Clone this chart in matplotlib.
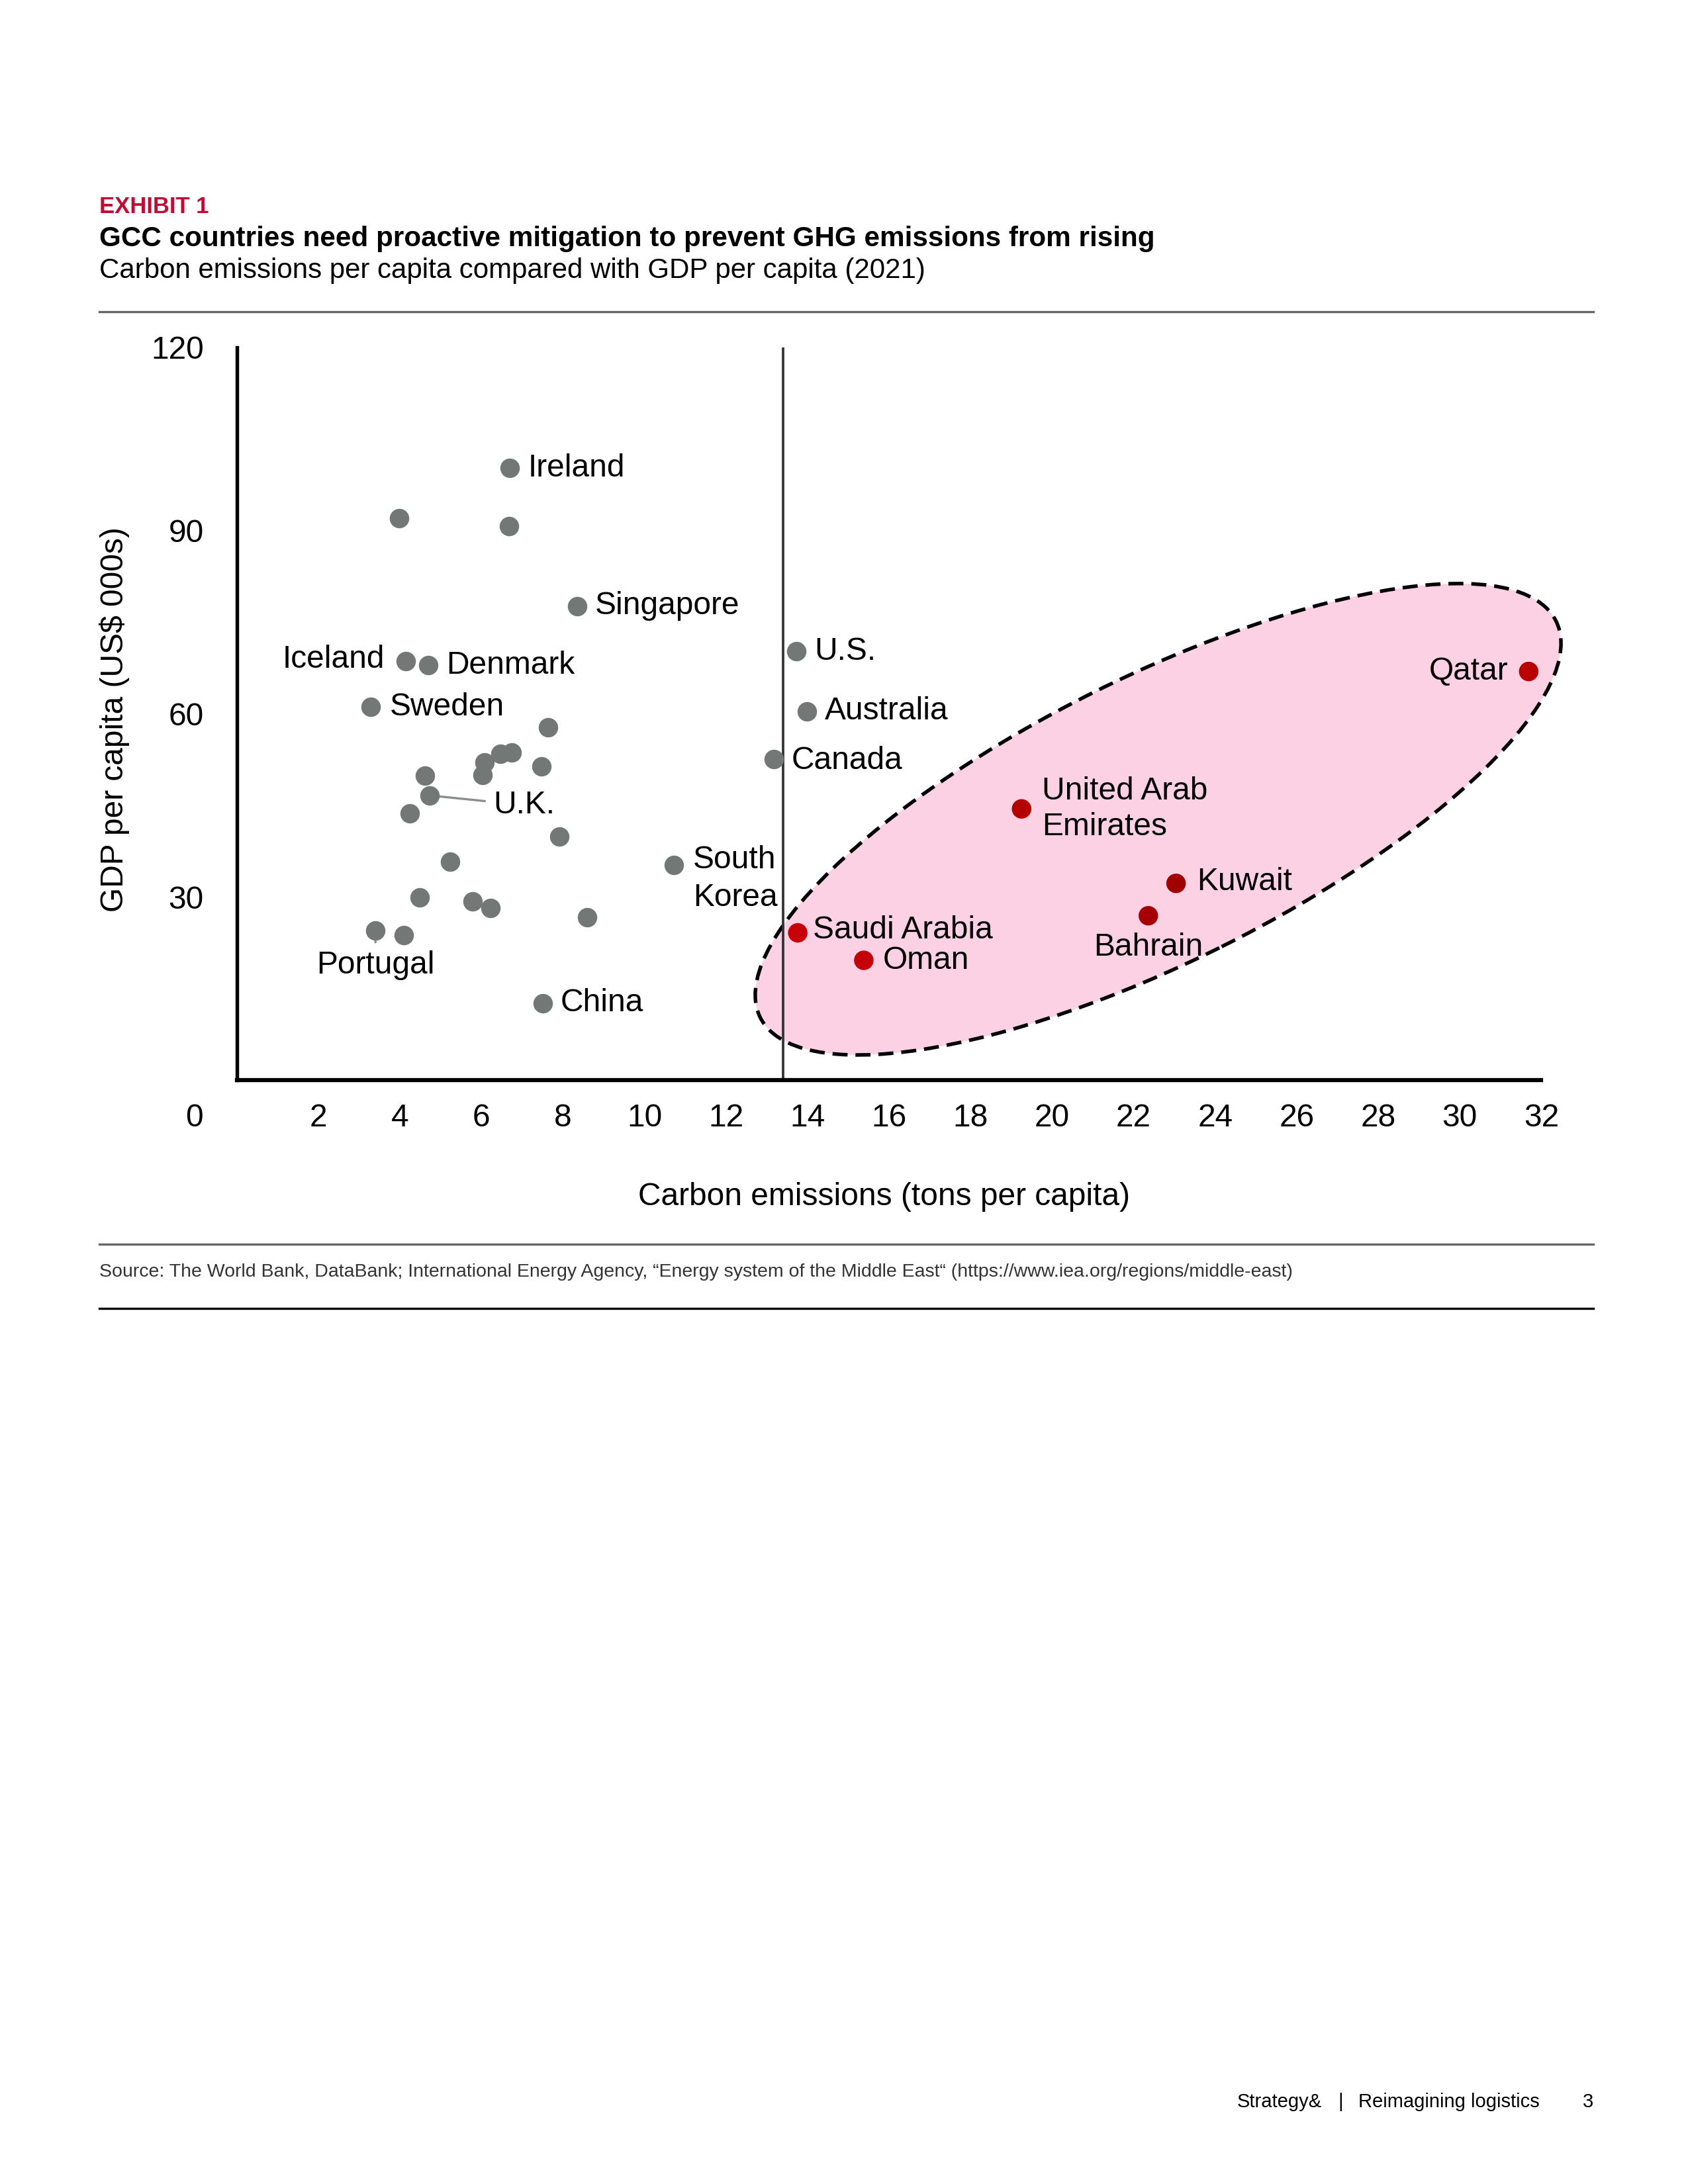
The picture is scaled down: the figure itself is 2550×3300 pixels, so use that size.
import matplotlib
matplotlib.use('Agg')
from matplotlib import pyplot as plt
from matplotlib.lines import Line2D
from matplotlib.patches import Ellipse
from matplotlib.transforms import ScaledTranslation

plt.rcParams['font.family'] = ['Liberation Sans', 'DejaVu Sans']

# labelled countries outside the GCC
countries = ['Ireland', 'Singapore', 'U.S.', 'Iceland', 'Denmark', 'Australia',
             'Sweden', 'Canada', 'U.K.', 'South\nKorea', 'Portugal', 'China']
co2 = [6.70, 8.35, 13.72, 4.14, 4.70, 13.99, 3.28, 13.17, 4.73, 10.72, 3.40, 7.50]
gdp = [100.2, 77.6, 70.2, 68.6, 67.9, 60.4, 61.1, 52.5, 46.6, 35.2, 24.5, 12.6]

# unlabelled countries
other_co2 = [3.99, 6.67, 7.63, 6.75, 6.47, 6.08, 6.03, 7.47, 4.61, 4.25, 7.92,
             5.23, 4.48, 5.78, 6.22, 8.60, 4.09]
other_gdp = [92.0, 90.7, 57.7, 53.6, 53.4, 52.0, 50.0, 51.4, 49.8, 43.7, 39.9,
             35.7, 29.9, 29.3, 28.2, 26.7, 23.7]

# GCC countries
gcc = ['Saudi Arabia', 'Oman', 'United Arab\nEmirates', 'Kuwait', 'Bahrain', 'Qatar']
gcc_co2 = [13.76, 15.38, 19.25, 23.04, 22.36, 31.69]
gcc_gdp = [24.1, 19.6, 44.4, 32.2, 26.9, 66.9]
gcc_colors = ['#c8000a', '#c4000a', '#b30000', '#a10000', '#a50006', '#b80000']

x_ticks = [2, 4, 6, 8, 10, 12, 14, 16, 18, 20, 22, 24, 26, 28, 30, 32]
y_ticks = [30, 60, 90, 120]
threshold = 13.4

# label placement: offset in points from the dot, ha, leader line
placement = {
    'Ireland': (6.5, 0, 'left', False),
    'Singapore': (6.5, 0, 'left', False),
    'U.S.': (6.5, 0, 'left', False),
    'Iceland': (-7.5, 0.5, 'right', False),
    'Denmark': (6.5, 0, 'left', False),
    'Australia': (6.5, 0, 'left', False),
    'Sweden': (7, 0, 'left', False),
    'Canada': (6.5, -0.5, 'left', False),
    'U.K.': (23, -3.5, 'left', True),
    'South\nKorea': (7, -5, 'left', False),
    'Portugal': (0, -12.7, 'center', True),
    'China': (6.5, 0, 'left', False),
    'Saudi Arabia': (5.5, 1, 'left', False),
    'Oman': (7, 0, 'left', False),
    'United Arab\nEmirates': (7.5, 0, 'left', False),
    'Kuwait': (7.5, 0.5, 'left', False),
    'Bahrain': (0, -11.5, 'center', False),
    'Qatar': (-7.5, 0, 'right', False),
}
line_gap = {'South\nKorea': 1.34, 'United Arab\nEmirates': 1.25}

FS = 11.5
GREY = '#737877'

fig = plt.figure(figsize=(8.5, 11), dpi=300)
ax = fig.add_axes([0.1403, 0.5055, 0.7728, 0.3355])
ax.set_xlim(0, 32)
ax.set_ylim(0, 120)

# GCC ellipse, sized in inches around a data-space centre
ell_trans = fig.dpi_scale_trans + ScaledTranslation(22.6, 42.7, ax.transData)
ax.add_patch(Ellipse((0, 0), 4.477, 1.434, angle=26.5, transform=ell_trans,
                     facecolor='#fdd1e4', edgecolor='black', lw=1.3,
                     linestyle=(0, (4.2, 2.2)), zorder=0.5, clip_on=False))

ax.axvline(threshold, color='#333333', lw=0.9, zorder=1)

ax.scatter(other_co2, other_gdp, s=50, color=GREY, lw=0, zorder=4)
ax.scatter(co2, gdp, s=50, color=GREY, lw=0, zorder=4)
ax.scatter(gcc_co2, gcc_gdp, s=50, color=gcc_colors, lw=0, zorder=4)

for names, xs, ys in [(countries, co2, gdp), (gcc, gcc_co2, gcc_gdp)]:
    for name, x, y in zip(names, xs, ys):
        dx, dy, ha, leader = placement[name]
        kw = {}
        if leader:
            kw['arrowprops'] = dict(arrowstyle='-', color='#8a8e8d', lw=0.8,
                                    shrinkA=1, shrinkB=0)
        ax.annotate(name, xy=(x, y), xytext=(dx, dy), textcoords='offset points',
                    ha=ha, va='center', fontsize=FS, color='black',
                    linespacing=line_gap.get(name, 1.2), zorder=3, **kw)

for side in ['top', 'right']:
    ax.spines[side].set_visible(False)
ax.spines['left'].set_linewidth(1.3)
ax.spines['bottom'].set_linewidth(1.5)
ax.set_xticks(x_ticks)
ax.set_yticks(y_ticks)
ax.tick_params(axis='both', length=0, labelsize=FS)
ax.tick_params(axis='x', pad=8.5)
ax.tick_params(axis='y', pad=12)
ax.annotate('0', xy=(0, 0), xytext=(-15.5, -8.5), textcoords='offset points',
            ha='center', va='top', fontsize=FS)

fig.text(0.5236, 0.452, 'Carbon emissions (tons per capita)', ha='center',
         va='center', fontsize=FS)
fig.text(0.0678, 0.6707, 'GDP per capita (US$ 000s)', ha='center', va='center',
         rotation=90, fontsize=FS)

# header
fig.text(0.0587, 0.9054, 'EXHIBIT 1', color='#c00d35', fontsize=8.3,
         fontweight='bold', va='center')
fig.text(0.0587, 0.8907, 'GCC countries need proactive mitigation to prevent GHG '
         'emissions from rising', fontsize=10.15, fontweight='bold', va='center')
fig.text(0.0587, 0.8760, 'Carbon emissions per capita compared with GDP per capita '
         '(2021)', fontsize=10.1, va='center')
fig.add_artist(Line2D([0.0587, 0.9438], [0.8574, 0.8574], color='#666666', lw=0.8))

# source
fig.add_artist(Line2D([0.0587, 0.9438], [0.4303, 0.4303], color='#666666', lw=0.8))
fig.text(0.0587, 0.4175, 'Source: The World Bank, DataBank; International Energy '
         'Agency, \u201cEnergy system of the Middle East\u201c '
         '(https://www.iea.org/regions/middle-east)', fontsize=6.83, color='#333333',
         va='center')
fig.add_artist(Line2D([0.0587, 0.9438], [0.4009, 0.4009], color='black', lw=0.8))

# page footer
fig.text(0.7329, 0.0377, 'Strategy&', fontsize=7, va='center')
fig.text(0.794, 0.0377, '|', fontsize=7, va='center', ha='center')
fig.text(0.8048, 0.0377, 'Reimagining logistics', fontsize=7, va='center')
fig.text(0.9438, 0.0377, '3', fontsize=7, va='center', ha='right')

fig.savefig('out.png', dpi=300)
